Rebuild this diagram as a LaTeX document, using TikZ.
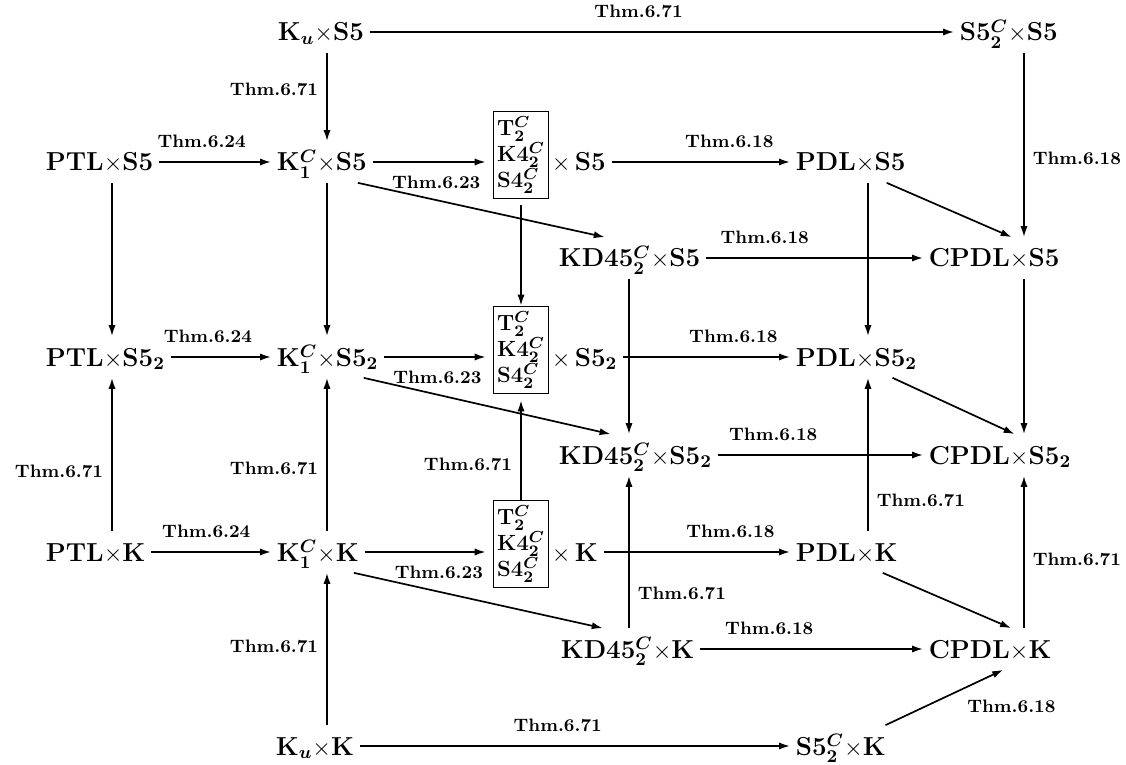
\documentclass[tikz,border=0pt]{standalone}
\usetikzlibrary{arrows.meta}
\tikzset{
  >={Latex[length=5.5pt,width=3.6pt]},
  obj/.style={font=\fontsize{13}{15}\selectfont\bfseries\boldmath, inner sep=2.5pt,
    text height=12pt, text depth=3pt, anchor=west},
  tribox/.style={draw, line width=0.8pt, font=\fontsize{11}{13}\selectfont\bfseries\boldmath,
    align=left, inner sep=1.5pt, minimum width=27.5pt, minimum height=43.5pt},
  lbl/.style={font=\fontsize{9}{10}\selectfont\bfseries, inner sep=2pt},
}
\newcommand{\tms}{{\unboldmath$\times$}}
\begin{document}
\begin{tikzpicture}[x=0.5pt,y=-0.5pt,line width=0.85pt]
\useasboundingbox (0,0) rectangle (1126,765);

\coordinate (cA) at (112,0);
\coordinate (cB) at (327,0);
\coordinate (cD) at (629,0);
\coordinate (cE) at (868,0);
\coordinate (cF) at (1024,0);

\node[obj] (kuS5) at (272,32) {K$_u$\tms S5};
\node[obj] (s5cS5) at (954,32) {S5$_2^C$\tms S5};

\node[obj] (ptlS5) at (40,162) {PTL\tms S5};
\node[obj] (k1S5) at (271,162) {K$_1^C$\tms S5};
\node[tribox] (tS5) at (521,155) {T$_2^C$\\K4$_2^C$\\S4$_2^C$};
\node[obj] (xS5) at (546,162) {\tms\,S5};
\node[obj] (pdlS5) at (790,162) {PDL\tms S5};

\node[obj] (kdS5) at (553,258) {KD45$_2^C$\tms S5};
\node[obj] (cpdlS5) at (923,258) {CPDL\tms S5};

\node[obj] (ptlS52) at (40,357) {PTL\tms S5$_2$};
\node[obj] (k1S52) at (271,357) {K$_1^C$\tms S5$_2$};
\node[tribox] (tS52) at (521,350) {T$_2^C$\\K4$_2^C$\\S4$_2^C$};
\node[obj] (xS52) at (546,357) {\tms\,S5$_2$};
\node[obj] (pdlS52) at (790,357) {PDL\tms S5$_2$};

\node[obj] (kdS52) at (553,455) {KD45$_2^C$\tms S5$_2$};
\node[obj] (cpdlS52) at (923,455) {CPDL\tms S5$_2$};

\node[obj] (ptlK) at (40,552) {PTL\tms K};
\node[obj] (k1K) at (271,552) {K$_1^C$\tms K};
\node[tribox] (tK) at (521,544) {T$_2^C$\\K4$_2^C$\\S4$_2^C$};
\node[obj] (xK) at (546,552) {\tms\,K};
\node[obj] (pdlK) at (790,552) {PDL\tms K};

\node[obj] (kdK) at (555,649) {KD45$_2^C$\tms K};
\node[obj] (cpdlK) at (923,649) {CPDL\tms K};

\node[obj] (kuK) at (270,746) {K$_u$\tms K};
\node[obj] (s5cK) at (790,746) {S5$_2^C$\tms K};

\draw[->] (kuS5) -- node[lbl,above=4.5pt,pos=0.46] (t1) {Thm.6.71} (s5cS5);
\draw[->] (kuS5.south -| cB) -- node[lbl,left=2pt,pos=0.41] (t2) {Thm.6.71} (k1S5.north -| cB);
\draw[->] (s5cS5.south -| cF) -- node[lbl,right=2pt,pos=0.57] (t3) {Thm.6.18} (cpdlS5.north -| cF);

\draw[->] (ptlS5) -- node[lbl,above=4.5pt,pos=0.38] (t4) {Thm.6.24} (k1S5);
\draw[->,shorten >=3.5pt] (k1S5) -- node[lbl,below=4.5pt,pos=0.53] (t5) {Thm.6.23} (k1S5 -| tS5.west);
\draw[->] (xS5) -- node[lbl,above=4.5pt,pos=0.66] (t6) {Thm.6.18} (pdlS5);
\draw[->] (k1S5.-30) -- (kdS5.140);
\draw[->] (pdlS5.-30) -- (cpdlS5.50);
\draw[->] (kdS5) -- node[lbl,above=4.5pt,pos=0.27] (t7) {Thm.6.18} (cpdlS5);

\draw[->] (ptlS5.south -| cA) -- (ptlS52.north -| cA);
\draw[->] (k1S5.south -| cB) -- (k1S52.north -| cB);
\draw[->,shorten <=3pt] (tS5) -- (tS52);
\draw[->] (kdS5.south -| cD) -- (kdS52.north -| cD);
\draw[->] (pdlS5.south -| cE) -- (pdlS52.north -| cE);
\draw[->] (cpdlS5.south -| cF) -- (cpdlS52.north -| cF);

\draw[->] (ptlS52) -- node[lbl,above=4.5pt,pos=0.37] (t8) {Thm.6.24} (k1S52);
\draw[->,shorten >=3.5pt] (k1S52) -- node[lbl,below=4.5pt,pos=0.49] (t9) {Thm.6.23} (k1S52 -| tS52.west);
\draw[->] (xS52) -- node[lbl,above=4.5pt,pos=0.66] (t10) {Thm.6.18} (pdlS52);
\draw[->] (k1S52.-30) -- (kdS52.140);
\draw[->] (pdlS52.-30) -- (cpdlS52.55);
\draw[->] (kdS52) -- node[lbl,above=4.5pt,pos=0.27] (t11) {Thm.6.18} (cpdlS52);

\draw[->] (ptlK.north -| cA) -- node[lbl,left=2pt,pos=0.39] (t12) {Thm.6.71} (ptlS52.south -| cA);
\draw[->] (k1K.north -| cB) -- node[lbl,left=2pt,pos=0.41] (t13) {Thm.6.71} (k1S52.south -| cB);
\draw[->,shorten >=3pt] (tK) -- node[lbl,left=2pt,pos=0.34] (t14) {Thm.6.71} (tS52);
\draw[->] (kdK.north -| cD) -- node[lbl,right=2pt,pos=0.23] (t15) {Thm.6.71} (kdS52.south -| cD);
\draw[->] (pdlK.north -| cE) -- node[lbl,right=2pt,pos=0.2] (t16) {Thm.6.71} (pdlS52.south -| cE);
\draw[->] (cpdlK.north -| cF) -- node[lbl,right=2pt,pos=0.45] (t17) {Thm.6.71} (cpdlS52.south -| cF);

\draw[->] (ptlK) -- node[lbl,above=4.5pt,pos=0.46] (t18) {Thm.6.24} (k1K);
\draw[->,shorten >=3.5pt] (k1K) -- node[lbl,below=4.5pt,pos=0.58] (t19) {Thm.6.23} (k1K -| tK.west);
\draw[->] (xK) -- node[lbl,above=4.5pt,pos=0.68] (t20) {Thm.6.18} (pdlK);
\draw[->] (k1K.-30) -- (kdK.140);
\draw[->] (pdlK.-30) -- (cpdlK.45);
\draw[->] (kdK) -- node[lbl,above=4.5pt,pos=0.31] (t21) {Thm.6.18} (cpdlK);

\draw[->] (kuK.north -| cB) -- node[lbl,left=2pt,pos=0.52] (t22) {Thm.6.71} (k1K.south -| cB);
\draw[->] (kuK) -- node[lbl,above=4.5pt,pos=0.46] (t23) {Thm.6.71} (s5cK);
\draw[->] (s5cK.25) -- node[lbl,below right=2pt,pos=0.62] (t24) {Thm.6.18} (cpdlK.-58);
\end{tikzpicture}
\end{document}
